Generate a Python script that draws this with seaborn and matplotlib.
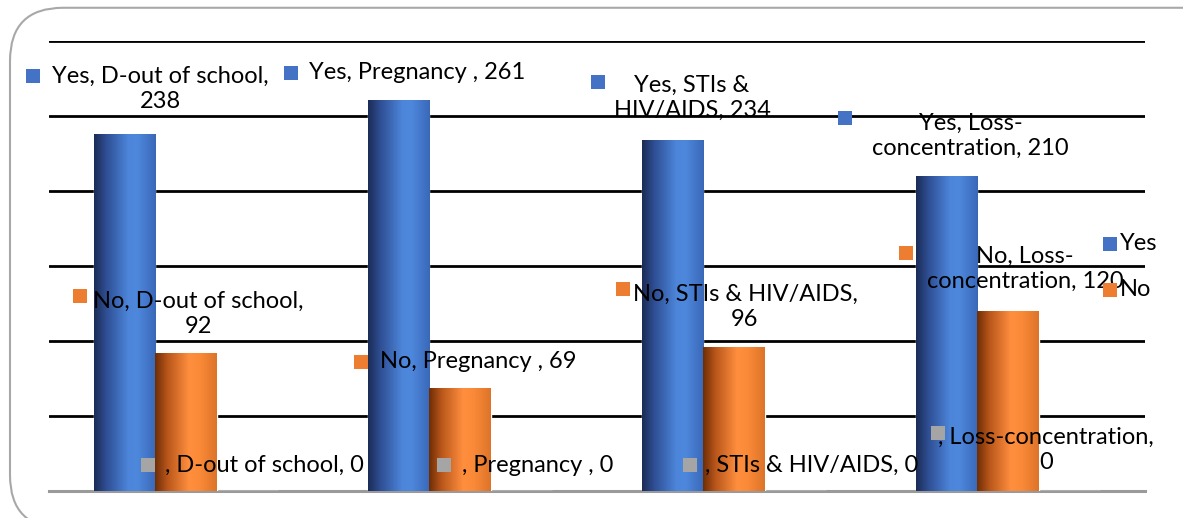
import numpy as np
import pandas as pd
import seaborn as sns
import matplotlib.pyplot as plt
from matplotlib.colors import LinearSegmentedColormap
from matplotlib.patches import FancyBboxPatch

# chart data
problems = ['D-out of school', 'Pregnancy ', 'STIs & HIV/AIDS', 'Loss-concentration']
yes_counts = [238, 261, 234, 210]
no_counts = [92, 69, 96, 120]
blank_counts = [0, 0, 0, 0]
series_names = ['Yes', 'No', '']

df = pd.DataFrame({
    'problem': problems * 3,
    'answer': ['Yes'] * 4 + ['No'] * 4 + [''] * 4,
    'count': yes_counts + no_counts + blank_counts,
})

sns.set_style('white')
plt.rcParams['font.family'] = ['Lato', 'DejaVu Sans']

fig = plt.figure(figsize=(11.83, 5.18), dpi=100)
ax = fig.add_axes([49 / 1183, 27 / 518, 1096 / 1183, 450 / 518])

sns.barplot(data=df, x='problem', y='count', hue='answer', hue_order=series_names,
            palette=['#4472c4', '#ed7d31', '#a5a5a5'], width=0.668, gap=0,
            legend=False, ax=ax, zorder=3)

ax.set_ylim(0, 300)
ax.set_xlim(-0.5, 3.5)
ax.set_yticks(range(50, 301, 50))
ax.yaxis.grid(True, color='black', lw=2)
ax.set_axisbelow(True)
ax.set_xticks([])
ax.set_yticklabels([])
ax.tick_params(left=False)
ax.set_xlabel('')
ax.set_ylabel('')
for s in ['top', 'left', 'right']:
    ax.spines[s].set_visible(False)
ax.spines['bottom'].set_color('#9a9a9a')
ax.spines['bottom'].set_linewidth(2.2)

# horizontal gradient fill like the original 3D-ish bars
blue_cmap = LinearSegmentedColormap.from_list('b', [
    (0.0, '#1b2c55'), (0.2, '#2f4e94'), (0.55, '#4c85d9'), (0.7, '#4e88dd'), (1.0, '#3a68b8')])
orange_cmap = LinearSegmentedColormap.from_list('o', [
    (0.0, '#6e2d05'), (0.2, '#b8561a'), (0.55, '#ff8e3e'), (0.72, '#fb8a38'), (1.0, '#dd7429')])
grad = np.linspace(0, 1, 256).reshape(1, -1)
n = len(problems)
for i, bar in enumerate(ax.patches):
    h = bar.get_height()
    if h <= 0:
        continue
    cmap = blue_cmap if i < n else orange_cmap
    x0 = bar.get_x()
    im = ax.imshow(grad, cmap=cmap, aspect='auto', zorder=3.5,
                   extent=[x0, x0 + bar.get_width(), 0, h])
    im.set_clip_path(bar)
ax.set_xlim(-0.5, 3.5)
ax.set_ylim(0, 300)

FS = 17

# data labels: text, text centre (x, y), marker (x, y), marker colour
labels = [
    (f'Yes, {problems[0]},\n{yes_counts[0]}', (-0.095, 268), (-0.558, 277), '#4472c4'),
    (f'Yes, {problems[1]}, {yes_counts[1]}', (0.843, 278.7), (0.383, 278.7), '#4472c4'),
    (f'Yes, STIs &\nHIV/AIDS, {yes_counts[2]}', (1.847, 262.3), (1.504, 272.7), '#4472c4'),
    (f'Yes, Loss-\nconcentration, {yes_counts[3]}', (2.863, 237), (2.405, 248.7), '#4472c4'),
    (f'No, {problems[0]},\n{no_counts[0]}', (0.044, 118.3), (-0.387, 130), '#ed7d31'),
    (f'No, {problems[1]}, {no_counts[1]}', (1.066, 86), (0.639, 86), '#ed7d31'),
    (f'No, {problems[2]},\n{no_counts[2]}', (2.04, 122.7), (1.595, 134.7), '#ed7d31'),
    (f'No, Loss-\nconcentration, {no_counts[3]}', (3.062, 148), (2.628, 159), '#ed7d31'),
    (f', {problems[0]}, {blank_counts[0]}', (0.288, 17.3), (-0.139, 17.3), '#a5a5a5'),
    (f', {problems[1]}, {blank_counts[1]}', (1.285, 17.3), (0.942, 17.3), '#a5a5a5'),
    (f', {problems[2]}, {blank_counts[2]}', (2.285, 17.3), (1.839, 17.3), '#a5a5a5'),
    (f', {problems[3]},\n{blank_counts[3]}', (3.139, 27.3), (2.745, 38.7), '#a5a5a5'),
]
for text, (tx, ty), (mx, my), col in labels:
    ax.text(tx, ty, text, ha='center', va='center', fontsize=FS, color='black',
            linespacing=1.25, zorder=6, clip_on=False)
    ax.scatter([mx], [my], marker='s', s=95, color=col, zorder=6, clip_on=False,
               linewidths=0)

# legend on the right
ax.scatter([3.372], [165], marker='s', s=95, color='#4472c4', clip_on=False, zorder=6, linewidths=0)
ax.text(3.41, 165, 'Yes', va='center', fontsize=FS, color='black', zorder=6, clip_on=False)
ax.scatter([3.372], [134], marker='s', s=95, color='#ed7d31', clip_on=False, zorder=6, linewidths=0)
ax.text(3.41, 134, 'No', va='center', fontsize=FS, color='black', zorder=6, clip_on=False)

# rounded chart border
fig.patches.append(FancyBboxPatch((10 / 1183, -0.02), 1.2, 1.005,
                                  boxstyle='round,pad=0,rounding_size=0.045',
                                  transform=fig.transFigure, fill=False,
                                  ec='#a8a8a8', lw=1.5, mutation_aspect=1183 / 518))

fig.savefig('out.png', dpi=100)
plt.close()
